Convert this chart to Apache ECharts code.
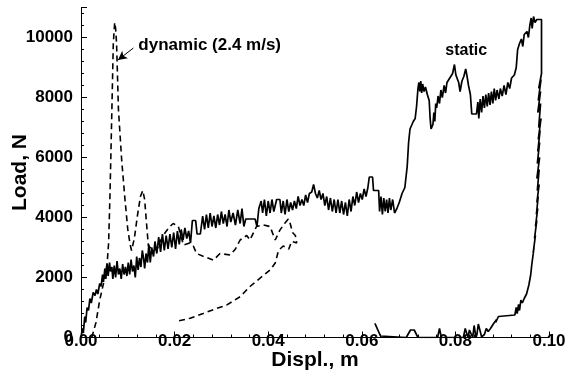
<!DOCTYPE html>
<html>
<head>
<meta charset="utf-8">
<script src="https://cdn.jsdelivr.net/npm/echarts@6/dist/echarts.min.js"></script>
<style>
html,body{margin:0;padding:0;background:#fff;}
#chart{width:571px;height:383px;}
</style>
</head>
<body>
<div id="chart"></div>
<script>
// Static test: load (N) vs displacement (m)
const staticCurve = [
 [0.0000,0],[0.0003,300],[0.0005,150],[0.0008,700],[0.0010,500],[0.0013,1000],[0.0016,900],[0.0019,1300],
 [0.0022,1150],[0.0026,1500],[0.0030,1400],[0.0033,1600],[0.0036,1450],[0.0040,1800],[0.0043,1700],[0.0046,2100],
 [0.0048,1850],[0.0051,2300],[0.0053,1950],[0.0056,2450],[0.0058,2050],[0.0061,2500],[0.0063,2200],[0.0066,2350],
 [0.0068,1950],[0.0071,2400],[0.0074,2000],[0.0077,2550],[0.0080,2100],[0.0083,2300],[0.0086,1950],[0.0089,2450],
 [0.0092,2100],[0.0095,2350],[0.0098,2050],[0.0101,2500],[0.0104,2100],[0.0107,2600],[0.0110,2200],[0.0113,2400],
 [0.0116,2000],[0.0119,2700],[0.0122,2250],[0.0125,2650],[0.0128,2350],[0.0131,2900],[0.0134,2600],[0.0136,2300],
 [0.0139,2800],[0.0142,2500],[0.0145,3100],[0.0148,2500],[0.0151,3000],[0.0155,2700],[0.0158,3200],[0.0162,2800],
 [0.0166,3350],[0.0170,2850],[0.0174,3450],[0.0178,2900],[0.0182,3400],[0.0186,2950],[0.0190,3450],[0.0194,3000],
 [0.0198,3500],[0.0202,2950],[0.0206,3550],[0.0210,3100],[0.0214,3600],[0.0218,3250],[0.0222,3650],[0.0226,3300],
 [0.0230,3550],[0.0234,3150],[0.0238,3900],[0.0245,3900],[0.0248,3450],[0.0255,3450],[0.0260,4050],[0.0264,3600],
 [0.0268,4100],[0.0272,3650],[0.0276,4150],[0.0280,3700],[0.0284,4050],[0.0288,3650],[0.0292,4100],[0.0296,3750],
 [0.0300,4200],[0.0304,3800],[0.0308,4100],[0.0312,3700],[0.0316,4250],[0.0320,3850],[0.0325,4150],[0.0330,3750],
 [0.0335,4250],[0.0340,3800],[0.0344,4300],[0.0348,3700],[0.0352,3950],[0.0372,3950],[0.0376,3700],[0.0380,4300],
 [0.0385,4550],[0.0388,4150],[0.0392,4600],[0.0396,4050],[0.0400,4550],[0.0404,4150],[0.0408,4600],[0.0412,4200],
 [0.0418,4600],[0.0425,4600],[0.0428,4150],[0.0432,4550],[0.0436,4100],[0.0440,4600],[0.0444,4200],[0.0448,4500],
 [0.0452,4250],[0.0456,4550],[0.0460,4300],[0.0464,4700],[0.0468,4400],[0.0472,4600],[0.0476,4400],[0.0480,4750],
 [0.0484,4500],[0.0488,4800],[0.0493,4850],[0.0497,5100],[0.0501,4800],[0.0505,4650],[0.0509,4900],[0.0513,4600],
 [0.0517,4800],[0.0521,4400],[0.0525,4700],[0.0529,4250],[0.0533,4650],[0.0537,4200],[0.0541,4600],[0.0545,4150],
 [0.0549,4600],[0.0553,4150],[0.0557,4550],[0.0561,4100],[0.0565,4500],[0.0569,4050],[0.0573,4600],[0.0577,4200],
 [0.0581,4700],[0.0585,4400],[0.0589,4850],[0.0593,4500],[0.0597,4800],[0.0601,4600],[0.0605,4950],[0.0609,4700],
 [0.0613,5000],[0.0616,5350],[0.0623,5350],[0.0625,4900],[0.0636,4900],[0.0638,4200],[0.0641,4700],[0.0644,4100],
 [0.0647,4650],[0.0650,4200],[0.0653,4600],[0.0656,4150],[0.0659,4650],[0.0662,4250],[0.0666,4600],[0.0670,4150],
 [0.0675,4300],[0.0680,4500],[0.0686,4800],[0.0692,5000],[0.0697,5700],[0.0700,6500],[0.0703,6950],[0.0707,6900],
 [0.0710,7200],[0.0714,7300],[0.0717,7700],[0.0720,8300],[0.0722,8500],[0.0724,8200],[0.0726,8550],[0.0728,8150],
 [0.0730,8450],[0.0733,8200],[0.0736,8350],[0.0740,8100],[0.0744,7900],[0.0746,7300],[0.0748,6950],[0.0752,7100],
 [0.0754,7500],[0.0756,7200],[0.0758,7800],[0.0760,7650],[0.0763,8050],[0.0766,7800],[0.0769,8250],[0.0772,8000],
 [0.0776,8400],[0.0779,8150],[0.0782,8500],[0.0786,8600],[0.0790,8550],[0.0794,8800],[0.0798,9100],[0.0801,8750],
 [0.0804,8700],[0.0807,8500],[0.0810,8200],[0.0814,8550],[0.0818,8700],[0.0822,8950],[0.0825,8700],[0.0828,8400],
 [0.0832,8100],[0.0835,7450],[0.0845,7450],[0.0848,7850],[0.0850,7300],[0.0853,7950],[0.0856,7500],[0.0859,8050],
 [0.0862,7650],[0.0865,8100],[0.0868,7700],[0.0871,8150],[0.0874,7750],[0.0877,8200],[0.0880,7800],[0.0883,8300],
 [0.0886,7900],[0.0889,8250],[0.0893,7950],[0.0896,8300],[0.0900,8050],[0.0904,8400],[0.0908,8100],[0.0912,8500],
 [0.0916,8300],[0.0920,8650],[0.0926,8750],[0.0930,9000],[0.0933,9600],[0.0937,9800],[0.0941,9950],[0.0944,9700],
 [0.0947,10100],[0.0950,10050],[0.0953,10200],[0.0956,10000],[0.0959,10400],[0.0962,10650],[0.0964,10300],[0.0967,10700],
 [0.0970,10500],[0.0974,10600],[0.0978,10550],[0.0984,10600],[0.0984,8800],
 [0.0978,8300],[0.0983,8600],[0.0977,7900],[0.0982,8200],[0.0976,7500],[0.0982,7800],[0.0978,7000],[0.0983,7300],
 [0.0977,6600],[0.0981,6900],[0.0976,6200],[0.0980,6500],[0.0975,5800],[0.0980,6000],[0.0974,5300],[0.0979,5600],
 [0.0975,4900],[0.0979,5100],[0.0974,4500],[0.0977,4700],[0.0973,4100],[0.0976,4300],[0.0971,3700],[0.0974,3900],
 [0.0969,3300],[0.0971,3400],[0.0966,2800],[0.0968,3000],[0.0963,2400],[0.0961,2100],[0.0957,1750],[0.0952,1450],
 [0.0947,1300],[0.0943,1150],[0.0940,1250],[0.0937,900],[0.0935,1100],[0.0932,800],[0.0930,1000],[0.0927,750],
 [0.0924,700],[0.0892,700],[0.0886,500],[0.0888,600],[0.0881,450],[0.0875,300],[0.0870,200],[0.0866,300],
 [0.0862,100],[0.0856,20],[0.0853,0],[0.0849,450],[0.0846,100],[0.0844,0],[0.0840,400],[0.0837,0],
 [0.0830,250],[0.0827,0],[0.0821,300],[0.0817,0],[0.0770,0],[0.0766,300],[0.0762,0],[0.0720,0],
 [0.0712,250],[0.0704,250],[0.0695,0],[0.0640,50],[0.0628,470]
];

// Dynamic test (2.4 m/s): load (N) vs displacement (m)
const dynamicCurve = [
 [0.0023,0],[0.0032,500],[0.0040,1250],[0.0051,2000],[0.0056,2500],[0.0059,3150],[0.0062,4800],[0.0066,7600],
 [0.0069,9800],[0.0072,10500],[0.0074,10300],[0.0076,9800],[0.0077,9250],[0.0080,7600],[0.0087,5900],[0.0094,4600],
 [0.0100,3600],[0.0105,3100],[0.0108,2900],[0.0114,3300],[0.0120,4000],[0.0127,4700],[0.0132,4900],[0.0136,4600],
 [0.0140,3800],[0.0144,3050],[0.0152,2950],[0.0162,2920],[0.0169,3200],[0.0180,3500],[0.0190,3700],[0.0197,3800],
 [0.0208,3700],[0.0215,3300],[0.0219,3080],[0.0232,3150],[0.0240,3050],[0.0247,2800],[0.0262,2700],[0.0283,2580],
 [0.0297,2800],[0.0319,2750],[0.0330,2950],[0.0340,3250],[0.0354,3400],[0.0361,3250],[0.0375,3700],[0.0390,3750],
 [0.0404,3700],[0.0415,3250],[0.0425,3580],[0.0435,3800],[0.0443,3950],[0.0447,3800],[0.0452,3500],[0.0458,3400],
 [0.0461,3150],[0.0457,3100],[0.0450,3200],[0.0444,2950],[0.0440,3000],[0.0432,3050],[0.0422,2900],[0.0415,2480],
 [0.0404,2250],[0.0382,1970],[0.0361,1700],[0.0340,1360],[0.0311,1080],[0.0290,970],[0.0261,800],[0.0233,640],
 [0.0208,550]
];

const xTicks = [0, 0.02, 0.04, 0.06, 0.08, 0.10];
const yTicks = [0, 2000, 4000, 6000, 8000, 10000];
const staticLabel = 'static';
const dynamicLabel = 'dynamic (2.4 m/s)';
const staticLabelAt = [0.0823, 9580];
const dynamicLabelAt = [0.0275, 9750];
const arrowFrom = [0.0112, 9650];
const arrowTo = [0.0079, 9250];

const FONT = '"Liberation Sans", Arial, sans-serif';
const chart = echarts.init(document.getElementById('chart'));
chart.setOption({
  animation: false,
  backgroundColor: '#fff',
  grid: {left: 81, right: 22, top: 7.5, bottom: 45.5, containLabel: false, outerBoundsMode: 'none'},
  xAxis: {
    type: 'value', min: 0, max: 0.1, interval: 0.02,
    name: 'Displ., m', nameLocation: 'middle', nameGap: 12, nameMoveOverlap: false,
    nameTextStyle: {fontFamily: FONT, fontWeight: 'bold', fontSize: 21, color: '#000', verticalAlign: 'top'},
    axisLine: {show: true, lineStyle: {color: '#000', width: 1}},
    axisTick: {show: true, inside: true, length: 6, lineStyle: {color: '#000', width: 1}},
    minorTick: {show: true, splitNumber: 5, length: 3, lineStyle: {color: '#000', width: 1}},
    splitLine: {show: false},
    axisLabel: {margin: -5, fontFamily: FONT, fontWeight: 'bold', fontSize: 17, color: '#000',
      formatter: v => xTicks.some(t => Math.abs(t - v) < 1e-9) ? v.toFixed(2) : ''}
  },
  yAxis: {
    type: 'value', min: 0, max: 11000, interval: 2000,
    name: 'Load, N', nameLocation: 'middle', nameGap: 50, nameMoveOverlap: false,
    nameTextStyle: {fontFamily: FONT, fontWeight: 'bold', fontSize: 21, color: '#000'},
    axisLine: {show: true, lineStyle: {color: '#000', width: 1}},
    axisTick: {show: true, inside: true, length: 6, lineStyle: {color: '#000', width: 1}},
    minorTick: {show: true, splitNumber: 5, length: 3, lineStyle: {color: '#000', width: 1}},
    splitLine: {show: false},
    axisLabel: {margin: 8, fontFamily: FONT, fontWeight: 'bold', fontSize: 17, color: '#000',
      formatter: v => yTicks.indexOf(v) >= 0 ? String(v) : ''}
  },
  series: [
    {
      name: 'static', type: 'line', data: staticCurve, showSymbol: false, symbol: 'none',
      lineStyle: {color: '#000', width: 1.7}, z: 3,
      markPoint: {
        symbol: 'circle', symbolSize: 1, itemStyle: {color: 'rgba(0,0,0,0)'},
        label: {show: true, position: 'inside', color: '#000', fontFamily: FONT, fontWeight: 'bold', fontSize: 16},
        data: [{coord: staticLabelAt, value: staticLabel, label: {formatter: staticLabel}}]
      }
    },
    {
      name: 'dynamic', type: 'line', data: dynamicCurve, showSymbol: false, symbol: 'none',
      lineStyle: {color: '#000', width: 1.6, type: [6, 4]}, z: 2,
      markPoint: {
        symbol: 'circle', symbolSize: 1, itemStyle: {color: 'rgba(0,0,0,0)'},
        label: {show: true, position: 'inside', color: '#000', fontFamily: FONT, fontWeight: 'bold', fontSize: 17},
        data: [{coord: dynamicLabelAt, value: dynamicLabel, label: {formatter: dynamicLabel}}]
      },
      markLine: {
        silent: true, symbol: ['none', 'arrow'], symbolSize: [7, 9],
        lineStyle: {color: '#000', width: 1, type: 'solid'},
        label: {show: false},
        data: [[{coord: arrowFrom}, {coord: arrowTo}]]
      }
    }
  ]
});
</script>
</body>
</html>
